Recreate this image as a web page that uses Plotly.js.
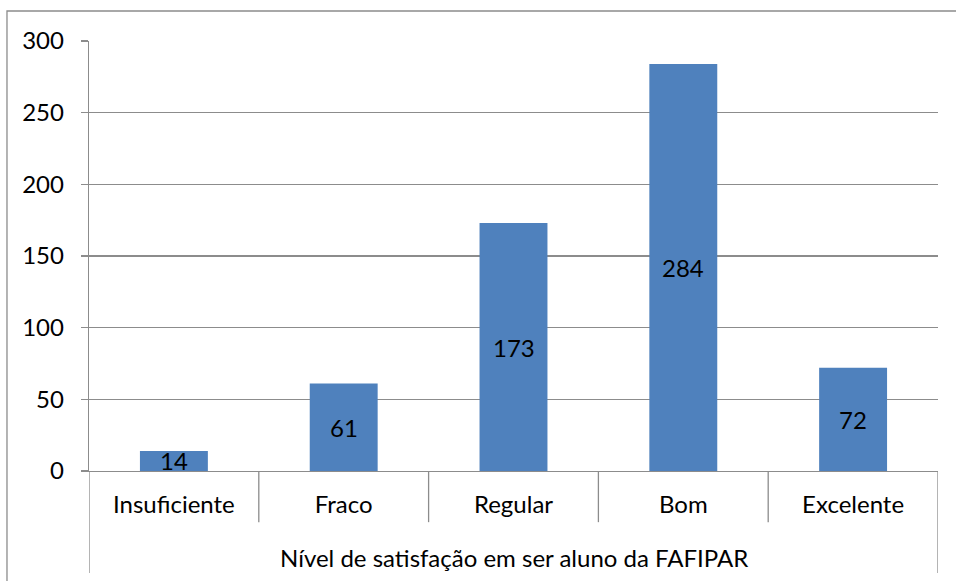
<!DOCTYPE html>
<html>
<head>
<meta charset="utf-8">
<script src="https://cdn.plot.ly/plotly-3.0.1.min.js"></script>
<style>
  html, body { margin: 0; padding: 0; background: #ffffff; }
  #chart { width: 956px; height: 581px; }
</style>
</head>
<body>
<div id="chart"></div>
<script>
// ---- data ----
const categories = ["Insuficiente", "Fraco", "Regular", "Bom", "Excelente"];
const values = [14, 61, 173, 284, 72];
const groupLabel = "Nível de satisfação em ser aluno da FAFIPAR";
const yTicks = [0, 50, 100, 150, 200, 250, 300];

// ---- style ----
const FONT = "Lato, 'Open Sans', sans-serif";
const FS = 24;
const GREY = "#8c8c8c";
const BAR = "#4f81bd";

const trace = {
  type: "bar",
  x: categories,
  y: values,
  marker: { color: BAR, line: { width: 0 } },
  hoverinfo: "x+y"
};

// value labels centred vertically inside each bar
const valueAnnotations = categories.map((c, i) => ({
  x: c, y: values[i] / 2, xref: "x", yref: "y",
  text: String(values[i]), showarrow: false,
  font: { family: FONT, size: FS, color: "#000000" },
  xanchor: "center", yanchor: "middle"
}));

// category divider lines (multi-level category axis look)
const shapes = [];
for (let k = 0; k <= categories.length; k++) {
  const outer = (k === 0 || k === categories.length);
  shapes.push({
    type: "line", xref: "x", yref: "paper",
    x0: k - 0.5, x1: k - 0.5,
    y0: 0, y1: outer ? -0.237 : -0.119,
    line: { color: GREY, width: 1.3 }
  });
}
// outer chart border
shapes.push({
  type: "rect", xref: "paper", yref: "paper",
  x0: -0.0966, x1: 1.03, y0: -0.27, y1: 1.0698,
  line: { color: GREY, width: 1.3 }, fillcolor: "rgba(0,0,0,0)"
});

const layout = {
  width: 956, height: 581,
  margin: { l: 89, r: 18, t: 41, b: 110 },
  paper_bgcolor: "#ffffff",
  plot_bgcolor: "#ffffff",
  showlegend: false,
  bargap: 0.6,
  font: { family: FONT, size: FS, color: "#000000" },
  xaxis: {
    type: "category",
    range: [-0.5, categories.length - 0.5],
    showline: true, linecolor: GREY, linewidth: 1.3,
    ticks: "", showgrid: false, zeroline: false,
    tickfont: { family: FONT, size: FS, color: "#000000" },
    ticklabelstandoff: 12,
    fixedrange: true
  },
  yaxis: {
    range: [0, 300],
    tickvals: yTicks,
    ticktext: yTicks.map(String),
    showline: true, linecolor: GREY, linewidth: 1.3,
    ticks: "outside", ticklen: 7, tickcolor: GREY, tickwidth: 1.3,
    showgrid: true, gridcolor: GREY, gridwidth: 1.3,
    zeroline: false,
    tickfont: { family: FONT, size: FS, color: "#000000" },
    ticklabelstandoff: 12,
    fixedrange: true
  },
  shapes: shapes,
  annotations: valueAnnotations.concat([{
    xref: "paper", yref: "paper", x: 0.5, y: -0.2,
    text: groupLabel, showarrow: false,
    font: { family: FONT, size: FS, color: "#000000" },
    xanchor: "center", yanchor: "middle"
  }])
};

Plotly.newPlot("chart", [trace], layout, { displayModeBar: false, staticPlot: true });
</script>
</body>
</html>
